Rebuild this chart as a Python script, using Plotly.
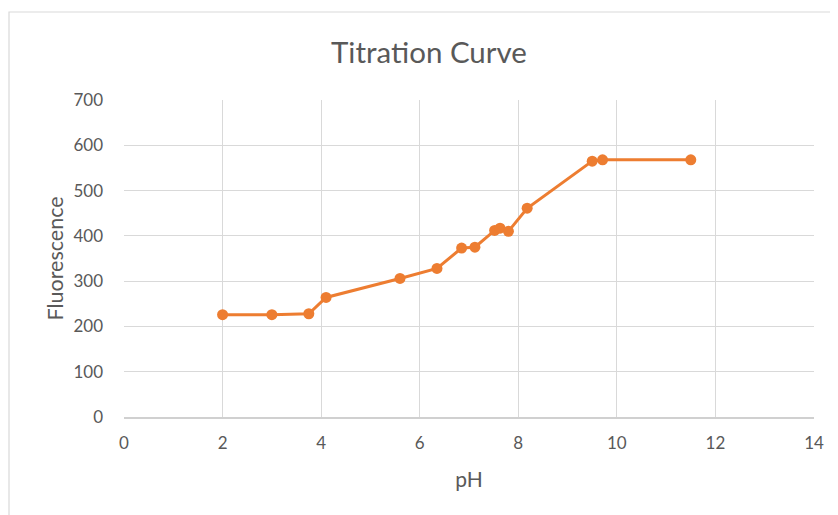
import plotly.graph_objects as go

ph = [2, 3, 3.75, 4.1, 5.6, 6.35, 6.85, 7.12, 7.52, 7.63, 7.8, 8.18, 9.5, 9.71, 11.5]
fluorescence = [226, 226, 228, 264, 306, 328, 373, 375, 412, 417, 410, 461, 565, 568, 568]

W, H = 838, 515
# page has an 8px body margin; figure coords = page coords - 8
L, R, T, B = 116, 32, 92, 106
pw = W - L - R
phh = H - T - B

def px(fx):
    return (fx - L) / pw

def py(fy):
    return 1 - (fy - T) / phh

fig = go.Figure()
fig.add_trace(go.Scatter(
    x=ph, y=fluorescence, mode="lines+markers",
    line=dict(color="#ED7D31", width=3),
    marker=dict(color="#ED7D31", size=11),
    showlegend=False,
))

# outer chart frame
fig.add_shape(type="rect", xref="paper", yref="paper",
              x0=px(1), x1=px(W - 0.5), y0=py(H - 0.5), y1=py(4),
              line=dict(color="#d9d9d9", width=1.2), layer="below")

fig.update_layout(
    width=W, height=H,
    margin=dict(l=L, r=R, t=T, b=B),
    paper_bgcolor="white", plot_bgcolor="white",
    font=dict(family="Lato, sans-serif", color="#595959", size=17),
    title=dict(text="Titration Curve", x=px(429 - 8), xref="paper", xanchor="center",
               y=1 - 45 / H, yanchor="middle",
               font=dict(size=29.5, color="#595959")),
    xaxis=dict(range=[0, 14], tickvals=[0, 2, 4, 6, 8, 10, 12, 14],
               showgrid=True, gridcolor="#d9d9d9", gridwidth=1,
               zeroline=False, showline=True, linecolor="#d0d0d0", linewidth=1.5,
               ticks="", ticklabelstandoff=10,
               title=dict(text="pH", standoff=20, font=dict(size=21, color="#595959"))),
    yaxis=dict(range=[0, 700], tickvals=[0, 100, 200, 300, 400, 500, 600, 700],
               showgrid=True, gridcolor="#d9d9d9", gridwidth=1,
               zeroline=False, showline=False, ticks="", ticklabelstandoff=20,
               title=dict(text="Fluorescence", standoff=3, font=dict(size=21.5, color="#595959"))),
)

fig.write_html("out.html")
